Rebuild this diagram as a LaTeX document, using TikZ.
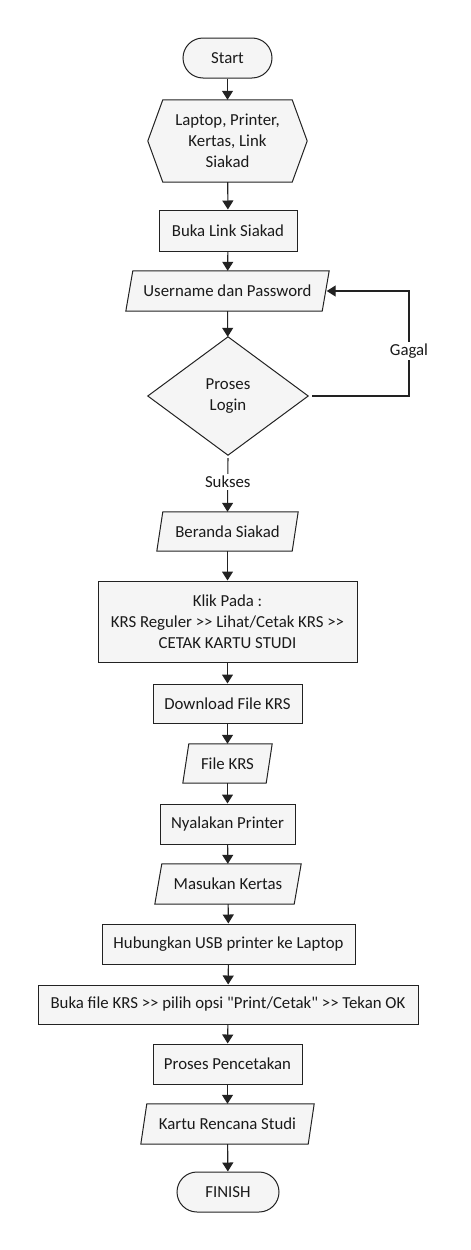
\documentclass[tikz,border=0pt]{standalone}
\usepackage{fontspec}
\setmainfont{Carlito}[Ligatures=TeXOff]
\usetikzlibrary{arrows.meta,backgrounds,calc}
\definecolor{boxfill}{HTML}{F5F5F5}
\definecolor{linec}{HTML}{222222}
\definecolor{textc}{HTML}{1A1A1A}
\newcommand\drawpara[2]{%
  \draw[shp] ($(#1.north west)+(#2,0)$) -- (#1.north east) -- ($(#1.south east)-(#2,0)$) -- (#1.south west) -- cycle;}
\begin{document}
\begin{tikzpicture}[x=1pt,y=-1pt,
  font=\fontsize{16.8}{21}\selectfont, text=textc,
  shp/.style={draw=linec, fill=boxfill, line width=1pt},
  box/.style={shp, rectangle, inner sep=0pt, align=center},
  term/.style={box, rounded corners=20pt},
  ghost/.style={rectangle, inner sep=0pt, align=center},
  arr/.style={draw=linec, line width=1.1pt, -{Triangle[length=9pt,width=11pt]}},
  lab/.style={fill=white, inner sep=2pt, text=textc},
]
\useasboundingbox (0,0) rectangle (471,1250);

\node[term, minimum width=89pt, minimum height=40pt] (start) at (227.5,58) {Start};
\node[ghost, minimum width=159pt, minimum height=82pt] (hex) at (227.5,141) {Laptop, Printer,\\Kertas, Link\\Siakad};
\node[box, minimum width=138pt, minimum height=41pt] (buka) at (228,230.5) {Buka Link Siakad};
\node[ghost, minimum width=203pt, minimum height=40pt] (user) at (227.5,291) {Username dan Password};
\node[ghost, minimum width=160pt, minimum height=118pt] (dec) at (228,396) {Proses\\Login};
\node[ghost, minimum width=141pt, minimum height=39pt] (ber) at (227.5,531.5) {Beranda Siakad};
\node[box, minimum width=259pt, minimum height=81pt] (klik) at (227.5,621.5) {Klik Pada :\\KRS Reguler >> Lihat/Cetak KRS >>\\CETAK KARTU STUDI};
\node[box, minimum width=149pt, minimum height=39pt] (down) at (227.5,703.5) {Download File KRS};
\node[ghost, minimum width=89pt, minimum height=39pt] (fkrs) at (227.5,763.5) {File KRS};
\node[box, minimum width=135pt, minimum height=40pt] (nyal) at (227.5,824) {Nyalakan Printer};
\node[ghost, minimum width=146pt, minimum height=40pt] (masuk) at (228,884) {Masukan Kertas};
\node[box, minimum width=253pt, minimum height=40pt] (hub) at (228.5,944) {Hubungkan USB printer ke Laptop};
\node[box, minimum width=380pt, minimum height=39pt] (bfile) at (228,1004.5) {Buka file KRS >> pilih opsi "Print/Cetak" >> Tekan OK};
\node[box, minimum width=149pt, minimum height=40pt] (proses) at (227.5,1064) {Proses Pencetakan};
\node[ghost, minimum width=173pt, minimum height=40pt] (kartu) at (227.5,1124) {Kartu Rencana Studi};
\node[term, minimum width=102pt, minimum height=40pt] (finish) at (228,1192) {FINISH};

\begin{scope}[on background layer]
  \draw[shp] ($(hex.north west)+(15,0)$) -- ($(hex.north east)-(15,0)$) -- (hex.east)
    -- ($(hex.south east)-(15,0)$) -- ($(hex.south west)+(15,0)$) -- (hex.west) -- cycle;
  \draw[shp] (dec.north) -- (dec.east) -- (dec.south) -- (dec.west) -- cycle;
  \drawpara{user}{7}
  \drawpara{ber}{6}
  \drawpara{fkrs}{6}
  \drawpara{masuk}{7}
  \drawpara{kartu}{6}
\end{scope}

\coordinate (userR) at ($(user.east)+(-2.5,0)$);
\coordinate (corner) at (409,396);

\draw[arr] (start) -- (hex);
\draw[arr] (hex) -- (buka);
\draw[arr] (buka) -- (user);
\draw[arr] (user) -- (dec);
\draw[arr, shorten <=3pt] (dec.south) -- (ber.north) node[lab, pos=0.47] (sukses) {Sukses};
\draw[arr, shorten <=4pt] (dec.east) -- (corner) -- (corner |- userR) -- (userR);
\node[lab] (gagal) at (409,351) {Gagal};
\draw[arr] (ber) -- (klik);
\draw[arr] (klik) -- (down);
\draw[arr] (down) -- (fkrs);
\draw[arr] (fkrs) -- (nyal);
\draw[arr] (nyal) -- (masuk);
\draw[arr] (masuk) -- (hub);
\draw[arr] (hub) -- (bfile);
\draw[arr] (bfile) -- (proses);
\draw[arr] (proses) -- (kartu);
\draw[arr] (kartu) -- (finish);
\end{tikzpicture}
\end{document}
